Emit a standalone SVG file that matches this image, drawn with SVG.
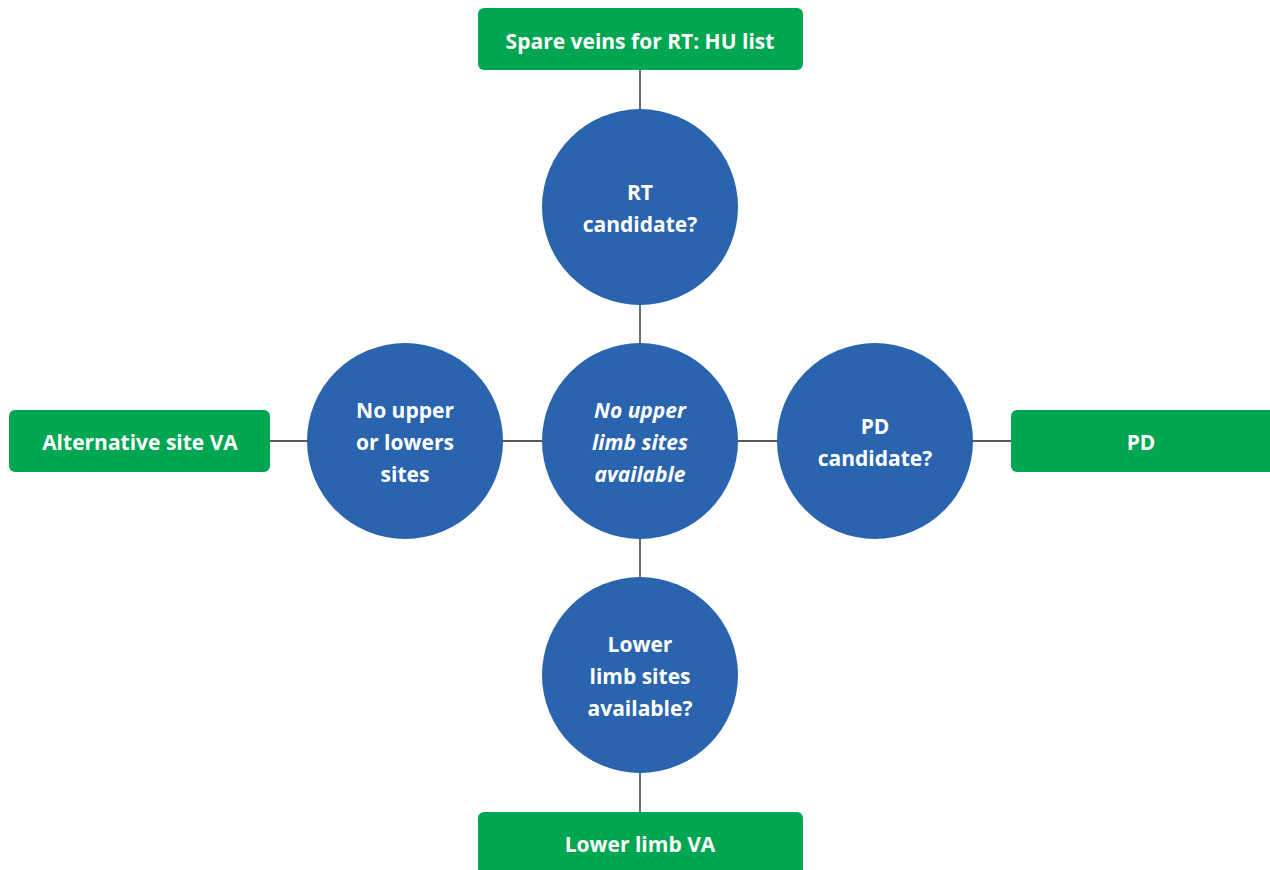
<svg xmlns="http://www.w3.org/2000/svg" width="1270" height="870" viewBox="0 0 1270 870">
<style>
.box{fill:#00A651}
.c{fill:#2A64AE}
.t{fill:#fff;font-family:"Open Sans",Lato,sans-serif;font-weight:bold;font-size:21px;text-anchor:middle}
.i{font-style:italic}
.ln{stroke:#222;stroke-width:1.3;fill:none}
</style>
<rect width="1270" height="870" fill="#fff"/>
<g id="connectors">
<line class="ln" x1="640" y1="70" x2="640" y2="812"/>
<line class="ln" x1="270" y1="441" x2="1011" y2="441"/>
</g>
<g id="top-box"><rect class="box" x="478" y="8" width="325" height="62" rx="6"/><text class="t" x="640" y="49">Spare veins for RT: HU list</text></g>
<g id="bottom-box"><rect class="box" x="478" y="812" width="325" height="70" rx="6"/><text class="t" x="640" y="852">Lower limb VA</text></g>
<g id="left-box"><rect class="box" x="9" y="410" width="261" height="62" rx="6"/><text class="t" x="140" y="450">Alternative site VA</text></g>
<g id="right-box"><rect class="box" x="1011" y="410" width="270" height="62" rx="6"/><text class="t" x="1141" y="450">PD</text></g>
<g id="rt-circle"><circle class="c" cx="640" cy="207" r="98"/><text class="t" x="640" y="200">RT</text><text class="t" x="640" y="232">candidate?</text></g>
<g id="center-circle"><circle class="c" cx="640" cy="441" r="98"/><text class="t i" x="640" y="418">No upper</text><text class="t i" x="640" y="450">limb sites</text><text class="t i" x="640" y="482">available</text></g>
<g id="left-circle"><circle class="c" cx="405" cy="441" r="98"/><text class="t" x="405" y="418">No upper</text><text class="t" x="405" y="450">or lowers</text><text class="t" x="405" y="482">sites</text></g>
<g id="right-circle"><circle class="c" cx="875" cy="441" r="98"/><text class="t" x="875" y="434">PD</text><text class="t" x="875" y="466">candidate?</text></g>
<g id="bottom-circle"><circle class="c" cx="640" cy="675" r="98"/><text class="t" x="640" y="652">Lower</text><text class="t" x="640" y="684">limb sites</text><text class="t" x="640" y="716">available?</text></g>
</svg>
